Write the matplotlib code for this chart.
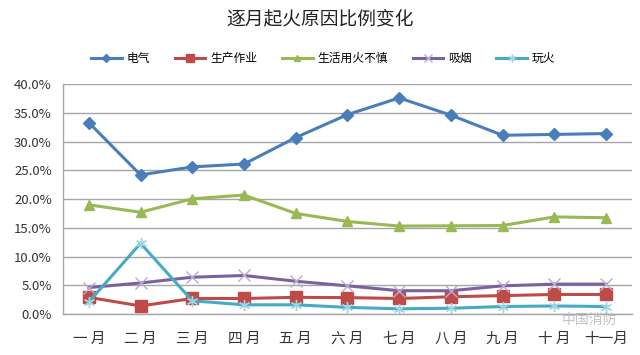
import matplotlib
matplotlib.use("Agg")
import matplotlib.pyplot as plt
from matplotlib.ticker import FuncFormatter, MultipleLocator

plt.rcParams['font.family'] = ['Noto Sans CJK SC', 'DejaVu Sans']

months = ["一月", "二月", "三月", "四月", "五月", "六月", "七月", "八月", "九月", "十月", "十一月"]
electric = [33.3, 24.2, 25.6, 26.1, 30.7, 34.7, 37.6, 34.6, 31.1, 31.25, 31.4]
production = [2.9, 1.4, 2.7, 2.7, 2.9, 2.85, 2.7, 3.0, 3.2, 3.4, 3.4]
living_fire = [19.0, 17.7, 20.05, 20.7, 17.5, 16.1, 15.3, 15.35, 15.4, 16.9, 16.75]
smoking = [4.6, 5.4, 6.4, 6.7, 5.7, 4.9, 4.05, 4.05, 4.9, 5.2, 5.2]
play_fire = [2.1, 12.3, 2.3, 1.6, 1.6, 1.15, 0.9, 1.0, 1.3, 1.4, 1.3]
series_names = ["电气", "生产作业", "生活用火不慎", "吸烟", "玩火"]
title = "逐月起火原因比例变化"

fig = plt.figure(figsize=(6.4, 3.55), dpi=100)
ax = fig.add_axes([0.0984, 0.1155, 0.889, 0.6475])

x = list(range(len(months)))
styles = [
    (electric, "#4A7EBB", "D", 6),
    (production, "#BE4B48", "s", 8),
    (living_fire, "#98B954", "^", 7),
    (smoking, "#7D60A0", "x", 8),
    (play_fire, "#46AAC5", "*", 8),
]
handles = []
for (vals, col, mk, ms), name in zip(styles, series_names):
    if mk == "*":
        h, = ax.plot(x, vals, color=col, lw=2.2, marker=(6, 2, 0), ms=ms,
                     mec="#9fd6e6", mew=1.0, label=name)
    elif mk == "x":
        h, = ax.plot(x, vals, color=col, lw=2.2, marker="x", ms=ms,
                     mec="#b9aad0", mew=1.0, label=name)
    else:
        h, = ax.plot(x, vals, color=col, lw=2.2, marker=mk, ms=ms,
                     mfc=col, mec=col, label=name)
    handles.append(h)

ax.set_xlim(-0.5, len(months) - 0.5)
ax.set_ylim(0, 40)
ax.yaxis.set_major_locator(MultipleLocator(5))
ax.yaxis.set_major_formatter(FuncFormatter(lambda v, p: f"{v:.1f}%"))
ax.set_xticks(x)
ax.set_xticklabels([" ".join(m) if len(m) == 2 else m for m in months], fontsize=10.5, color="#333333")
ax.tick_params(axis='y', labelsize=9.5, colors="#333333", length=0, pad=8)
ax.tick_params(axis='x', length=0, pad=13)
ax.grid(axis='y', color="#A6A6A6", lw=1.0)
ax.set_axisbelow(True)
for s in ["top", "right"]:
    ax.spines[s].set_visible(False)
for s in ["left", "bottom"]:
    ax.spines[s].set_color("#A6A6A6")
    ax.spines[s].set_linewidth(1.0)

fig.text(0.5, 0.948, title, ha="center", va="center", fontsize=13.5, color="#222222")
fig.legend(handles=handles, labels=series_names, loc="center", bbox_to_anchor=(0.505, 0.835),
           ncol=5, frameon=False, fontsize=8.5, handlelength=2.6, columnspacing=2.1,
           handletextpad=0.4, markerscale=0.7)

fig.text(0.965, 0.1, "中国消防", ha="right", va="center", fontsize=10, color="#BBBBBB", alpha=0.9)

fig.savefig("out.png", dpi=100)
